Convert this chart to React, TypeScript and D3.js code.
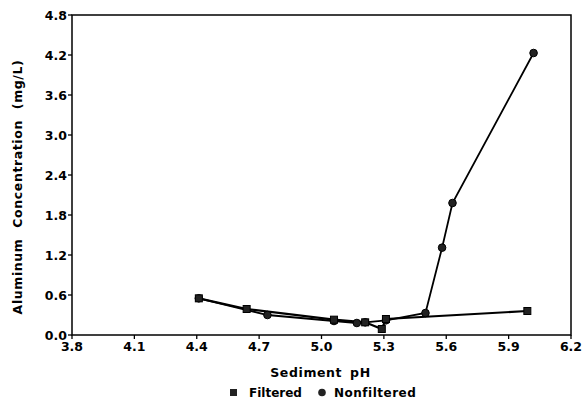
import React from "react";
import * as d3 from "d3";

const filteredPH = [4.41, 4.64, 5.06, 5.21, 5.29, 5.31, 5.99];
const filteredAl = [0.55, 0.39, 0.23, 0.19, 0.09, 0.24, 0.36];
const nonfilteredPH = [4.41, 4.74, 5.06, 5.17, 5.21, 5.31, 5.5, 5.58, 5.63, 6.02];
const nonfilteredAl = [0.55, 0.3, 0.21, 0.18, 0.19, 0.22, 0.33, 1.31, 1.98, 4.23];
const xTicks = [3.8, 4.1, 4.4, 4.7, 5.0, 5.3, 5.6, 5.9, 6.2];
const yTicks = [0, 0.6, 1.2, 1.8, 2.4, 3.0, 3.6, 4.2, 4.8];

const W = 584, H = 405;
const L = 72, R = 571, T = 15, B = 335;
const font = "'DejaVu Sans', sans-serif";

export default function App() {
  const x = d3.scaleLinear().domain([3.8, 6.2]).range([L, R]);
  const y = d3.scaleLinear().domain([0, 4.8]).range([B, T]);
  const line = d3.line<[number, number]>().x(d => x(d[0])).y(d => y(d[1]));
  const fData: [number, number][] = filteredPH.map((p, i) => [p, filteredAl[i]]);
  const nData: [number, number][] = nonfilteredPH.map((p, i) => [p, nonfilteredAl[i]]);
  return (
    <svg width={W} height={H} style={{ position: "absolute", left: 0, top: 0, background: "#fff" }}>
      <rect x={L} y={T} width={R - L} height={B - T} fill="none" stroke="#000" strokeWidth={1.5} />
      {xTicks.map(t => (
        <g key={"x" + t}>
          <line x1={x(t)} x2={x(t)} y1={B} y2={B + 4} stroke="#000" strokeWidth={1.3} />
          <text x={x(t)} y={B + 16} textAnchor="middle" fontFamily={font} fontWeight="bold" fontSize={12.5}>{t.toFixed(1)}</text>
        </g>
      ))}
      {yTicks.map(t => (
        <g key={"y" + t}>
          <line x1={L - 4} x2={L} y1={y(t)} y2={y(t)} stroke="#000" strokeWidth={1.3} />
          <text x={L - 5} y={y(t) + 4.5} textAnchor="end" fontFamily={font} fontWeight="bold" fontSize={12.5}>{t.toFixed(1)}</text>
        </g>
      ))}
      <path d={line(nData) || ""} fill="none" stroke="#000" strokeWidth={1.8} />
      <path d={line(fData) || ""} fill="none" stroke="#000" strokeWidth={2.2} />
      {nData.map((d, i) => (
        <circle key={"n" + i} cx={x(d[0])} cy={y(d[1])} r={3.8} fill="#222" stroke="#000" />
      ))}
      {fData.map((d, i) => (
        <rect key={"f" + i} x={x(d[0]) - 3.5} y={y(d[1]) - 3.5} width={7} height={7} fill="#222" stroke="#000" />
      ))}
      <text x={(L + R) / 2 - 1} y={377} textAnchor="middle" fontFamily={font} fontWeight="bold" fontSize={12.5} letterSpacing={0.6} wordSpacing={3}>Sediment pH</text>
      <text transform={`translate(22,187) rotate(-90)`} textAnchor="middle" fontFamily={font} fontWeight="bold" fontSize={12.5} letterSpacing={0.6} wordSpacing={6}>Aluminum Concentration (mg/L)</text>
      <rect x={230} y={389} width={7} height={7} fill="#222" />
      <text x={249} y={397} fontFamily={font} fontWeight="bold" fontSize={12}>Filtered</text>
      <circle cx={322} cy={392.5} r={3.8} fill="#222" />
      <text x={334} y={397} fontFamily={font} fontWeight="bold" fontSize={12} letterSpacing={0.5}>Nonfiltered</text>
    </svg>
  );
}
